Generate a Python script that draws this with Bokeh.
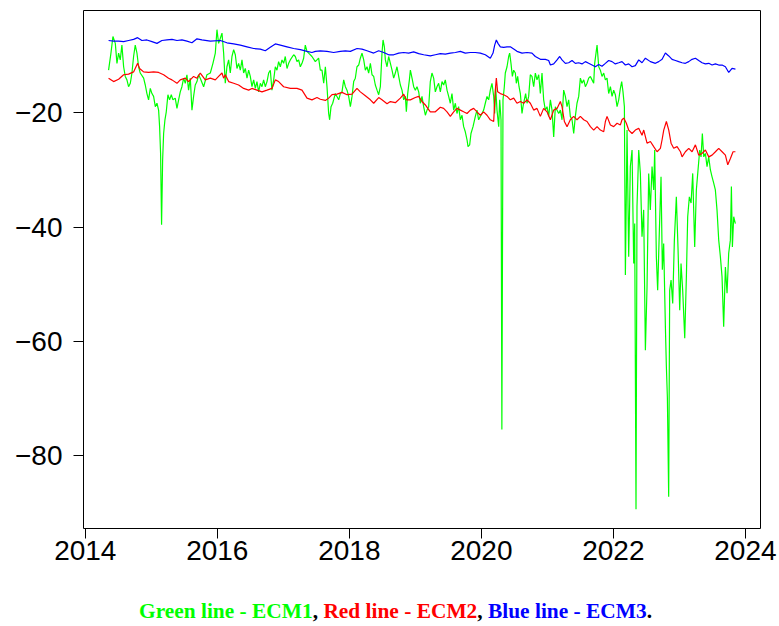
from bokeh.plotting import figure
from bokeh.models import Range1d, FixedTicker, Div
from bokeh.layouts import column
from bokeh.embed import file_html
from bokeh.resources import INLINE

# (decimal year, value) observations for each error-correction measure
ecm1_points = [
    (2014.353, -12.5), (2014.389, -9.5), (2014.419, -6.6), (2014.455, -7.8), (2014.480, -11.3),
    (2014.505, -9.5), (2014.530, -10.7), (2014.555, -8.1), (2014.581, -11.9), (2014.606, -13.6),
    (2014.631, -14.2), (2014.656, -15.4), (2014.682, -14.8), (2014.707, -13.0), (2014.732, -10.1),
    (2014.757, -8.1), (2014.783, -9.5), (2014.808, -11.9), (2014.833, -13.0), (2014.884, -13.9),
    (2014.909, -15.1), (2014.934, -16.6), (2014.959, -17.7), (2014.985, -15.7), (2015.010, -16.6),
    (2015.035, -17.1), (2015.061, -18.9), (2015.086, -18.3), (2015.111, -19.5), (2015.126, -22.4),
    (2015.141, -27.1), (2015.156, -39.6), (2015.172, -28.2), (2015.187, -23.6), (2015.207, -21.2),
    (2015.227, -19.8), (2015.252, -16.8), (2015.277, -17.7), (2015.303, -16.8), (2015.328, -17.7),
    (2015.363, -17.4), (2015.389, -19.2), (2015.414, -17.7), (2015.439, -16.3), (2015.464, -15.4),
    (2015.490, -13.9), (2015.515, -14.8), (2015.540, -13.3), (2015.565, -16.0), (2015.591, -13.9),
    (2015.616, -19.5), (2015.641, -17.1), (2015.666, -15.1), (2015.692, -14.5), (2015.717, -13.3),
    (2015.742, -13.9), (2015.793, -15.4), (2015.843, -13.3), (2015.894, -13.0),
    (2015.934, -11.3), (2015.970, -9.5), (2015.995, -5.4), (2016.020, -7.8), (2016.046, -6.9),
    (2016.071, -6.0), (2016.096, -9.5), (2016.121, -14.8), (2016.146, -11.9), (2016.172, -10.7),
    (2016.197, -13.0), (2016.222, -10.1), (2016.248, -8.9), (2016.273, -9.8), (2016.298, -12.2),
    (2016.323, -11.3), (2016.349, -12.5), (2016.374, -10.7), (2016.399, -13.0), (2016.424, -12.2),
    (2016.450, -13.9), (2016.475, -12.5), (2016.500, -13.6), (2016.525, -15.4), (2016.551, -14.2),
    (2016.576, -15.7), (2016.601, -14.5), (2016.626, -16.3), (2016.652, -14.8), (2016.677, -15.4),
    (2016.702, -14.2), (2016.727, -15.4), (2016.753, -14.5), (2016.778, -13.0), (2016.803, -12.5),
    (2016.828, -16.0), (2016.854, -14.2), (2016.879, -11.9), (2016.904, -12.5), (2016.929, -11.0),
    (2016.955, -11.9), (2016.980, -10.7), (2017.005, -11.3), (2017.030, -10.1), (2017.056, -12.2),
    (2017.081, -11.3), (2017.106, -10.7), (2017.157, -9.8), (2017.182, -10.1), (2017.207, -11.0),
    (2017.232, -10.7), (2017.258, -11.9), (2017.283, -11.3), (2017.308, -10.4), (2017.333, -8.1),
    (2017.359, -9.2), (2017.384, -9.5), (2017.434, -10.1), (2017.485, -11.0), (2017.535, -10.4),
    (2017.561, -12.5),
    (2017.586, -12.5), (2017.612, -14.8), (2017.637, -11.9), (2017.662, -15.4), (2017.687, -20.1),
    (2017.702, -21.2), (2017.723, -18.9), (2017.748, -18.3), (2017.788, -16.6), (2017.839, -17.7),
    (2017.864, -16.6), (2017.889, -16.3), (2017.915, -14.2), (2017.940, -15.4), (2017.965, -16.0),
    (2017.990, -17.1), (2018.016, -18.9), (2018.041, -17.1), (2018.066, -14.5), (2018.091, -13.9),
    (2018.116, -11.9), (2018.142, -11.6), (2018.167, -10.4), (2018.192, -9.5), (2018.218, -10.7),
    (2018.243, -12.5), (2018.268, -11.9), (2018.293, -13.0), (2018.319, -11.3), (2018.344, -13.3),
    (2018.369, -13.6), (2018.394, -15.1), (2018.420, -16.0), (2018.445, -16.8), (2018.470, -15.4),
    (2018.495, -9.5), (2018.511, -7.2), (2018.531, -8.4), (2018.546, -10.7), (2018.571, -11.9),
    (2018.596, -10.1), (2018.622, -11.3), (2018.647, -12.5), (2018.672, -13.9), (2018.697, -13.0),
    (2018.722, -11.9), (2018.748, -13.6), (2018.773, -15.1), (2018.798, -16.0), (2018.824, -17.7),
    (2018.849, -17.1), (2018.864, -19.8), (2018.884, -16.6), (2018.910, -14.2), (2018.925, -12.5),
    (2018.950, -13.9), (2018.975, -15.4), (2019.000, -16.0), (2019.025, -15.4), (2019.051, -16.3),
    (2019.076, -18.3), (2019.101, -17.1), (2019.126, -18.9), (2019.152, -20.4), (2019.177, -19.5),
    (2019.202, -18.9), (2019.227, -14.5),
    (2019.252, -13.0), (2019.278, -13.9), (2019.303, -16.3), (2019.328, -15.4), (2019.353, -14.8),
    (2019.379, -16.3), (2019.404, -14.5), (2019.429, -15.1), (2019.454, -14.2), (2019.480, -16.0),
    (2019.505, -17.1), (2019.530, -18.3), (2019.555, -16.6), (2019.581, -19.5), (2019.606, -18.3),
    (2019.631, -20.1), (2019.656, -18.9), (2019.682, -21.2), (2019.707, -20.4), (2019.732, -22.4),
    (2019.757, -23.3), (2019.783, -24.7), (2019.798, -25.9), (2019.823, -25.6), (2019.843, -23.6),
    (2019.874, -22.4), (2019.909, -20.6), (2019.934, -19.5), (2019.959, -21.2), (2019.985, -20.6),
    (2020.010, -20.1), (2020.035, -19.5), (2020.060, -18.3), (2020.086, -17.1), (2020.111, -17.7),
    (2020.136, -16.0), (2020.161, -14.8), (2020.187, -17.1), (2020.202, -20.1), (2020.217, -15.4),
    (2020.237, -19.5), (2020.263, -22.4), (2020.278, -17.7), (2020.298, -21.2), (2020.311, -75.5),
    (2020.328, -17.7), (2020.348, -15.4), (2020.363, -13.0), (2020.389, -11.9), (2020.414, -10.1),
    (2020.429, -9.5), (2020.449, -11.3), (2020.470, -13.6), (2020.490, -12.5), (2020.515, -13.0),
    (2020.530, -14.8), (2020.550, -13.6), (2020.571, -15.4), (2020.591, -16.6), (2020.616, -20.1),
    (2020.631, -18.9), (2020.651, -17.7), (2020.671, -16.6), (2020.692, -18.3), (2020.717, -17.1),
    (2020.742, -13.3), (2020.767, -13.6), (2020.793, -15.4), (2020.818, -13.0), (2020.843, -14.2),
    (2020.869, -13.3), (2020.894, -16.6),
    (2020.919, -13.0), (2020.944, -17.7), (2020.970, -19.5), (2020.995, -18.9), (2021.020, -20.6),
    (2021.046, -17.7), (2021.071, -19.5), (2021.096, -24.2), (2021.121, -18.9), (2021.172, -20.1),
    (2021.197, -19.5), (2021.222, -21.2), (2021.247, -16.0), (2021.273, -17.1), (2021.298, -18.9),
    (2021.323, -17.7), (2021.348, -20.6), (2021.374, -21.2), (2021.399, -23.6), (2021.424, -20.6),
    (2021.449, -18.3), (2021.475, -17.1), (2021.500, -13.9), (2021.525, -14.8), (2021.551, -14.2),
    (2021.576, -15.4), (2021.601, -14.8), (2021.626, -13.9), (2021.652, -13.6), (2021.677, -14.2),
    (2021.702, -14.8), (2021.717, -11.3), (2021.737, -9.5), (2021.753, -8.1), (2021.778, -11.9),
    (2021.803, -12.5), (2021.828, -13.6), (2021.854, -13.0), (2021.879, -14.2), (2021.904, -13.9),
    (2021.929, -16.6), (2021.955, -15.4), (2021.980, -17.1), (2022.005, -16.0), (2022.030, -16.8),
    (2022.056, -18.9), (2022.081, -17.7), (2022.106, -15.7), (2022.126, -14.5), (2022.146, -16.3),
    (2022.167, -18.9),
    (2022.182, -48.4), (2022.207, -23.0), (2022.232, -45.2), (2022.257, -29.4), (2022.283, -26.5),
    (2022.308, -46.4), (2022.323, -39.4), (2022.343, -89.5), (2022.358, -36.4), (2022.384, -26.5),
    (2022.409, -30.6), (2022.434, -41.7), (2022.459, -37.0), (2022.485, -61.6), (2022.510, -50.5),
    (2022.535, -30.6), (2022.560, -37.0), (2022.586, -29.4), (2022.611, -33.5), (2022.626, -26.5),
    (2022.651, -45.2), (2022.671, -51.1), (2022.697, -40.5), (2022.722, -31.2), (2022.742, -47.5),
    (2022.762, -42.9), (2022.788, -57.5), (2022.803, -64.5), (2022.818, -69.8), (2022.838, -87.3),
    (2022.853, -51.1), (2022.874, -49.3), (2022.899, -53.4), (2022.924, -42.3), (2022.954, -34.7),
    (2022.980, -44.0), (2023.005, -54.6), (2023.025, -46.4), (2023.050, -51.1), (2023.081, -59.5),
    (2023.106, -48.7), (2023.126, -38.2), (2023.151, -34.7), (2023.177, -35.8), (2023.202, -30.6),
    (2023.232, -43.5), (2023.257, -33.5), (2023.278, -30.6), (2023.308, -26.5), (2023.328, -27.7),
    (2023.348, -23.6), (2023.369, -27.7), (2023.394, -27.1), (2023.419, -29.4), (2023.444, -27.7),
    (2023.470, -30.0), (2023.495, -31.2), (2023.520, -32.3), (2023.545, -33.5), (2023.570, -37.0),
    (2023.596, -42.3), (2023.621, -45.2), (2023.646, -48.7), (2023.671, -57.5), (2023.697, -47.0),
    (2023.722, -51.6), (2023.747, -44.6), (2023.772, -42.3), (2023.788, -32.9), (2023.803, -43.5),
    (2023.823, -38.2), (2023.848, -39.4),
]

ecm2_points = [
    (2014.353, -13.9), (2014.429, -14.5), (2014.505, -14.1), (2014.581, -13.3), (2014.656, -13.2),
    (2014.732, -12.8), (2014.793, -11.3), (2014.823, -12.2), (2014.884, -12.8), (2014.959, -12.9),
    (2015.035, -12.8), (2015.111, -12.9), (2015.187, -13.3), (2015.262, -13.9), (2015.313, -14.2),
    (2015.389, -14.8), (2015.439, -14.2), (2015.515, -13.9), (2015.565, -14.5), (2015.641, -13.6),
    (2015.692, -13.9), (2015.742, -13.0), (2015.818, -14.2), (2015.894, -13.9),
    (2015.970, -14.2), (2016.020, -13.6), (2016.071, -13.0), (2016.096, -13.9), (2016.121, -13.3),
    (2016.172, -14.5), (2016.248, -14.8), (2016.323, -15.1), (2016.399, -15.7), (2016.475, -16.0),
    (2016.525, -15.7), (2016.601, -16.0), (2016.677, -16.3), (2016.753, -16.0), (2016.828, -15.7),
    (2016.879, -14.2), (2016.929, -14.5), (2017.005, -15.4), (2017.106, -15.7), (2017.207, -15.7),
    (2017.283, -16.0), (2017.359, -17.4), (2017.434, -17.7), (2017.510, -17.3), (2017.561, -17.6),
    (2017.637, -17.8), (2017.687, -17.4), (2017.738, -16.8), (2017.814, -16.7), (2017.889, -16.4),
    (2017.965, -16.8), (2018.041, -16.7), (2018.116, -15.7), (2018.167, -16.3), (2018.243, -17.0),
    (2018.319, -17.7), (2018.369, -18.3), (2018.445, -17.3), (2018.495, -17.7), (2018.571, -18.4),
    (2018.622, -18.0), (2018.697, -18.2), (2018.773, -17.4), (2018.824, -16.7), (2018.864, -17.7),
    (2018.925, -17.7), (2019.000, -17.3), (2019.051, -17.1), (2019.101, -18.0), (2019.152, -18.6),
    (2019.202, -19.4), (2019.227, -19.8),
    (2019.303, -19.8), (2019.379, -19.0), (2019.429, -19.2), (2019.480, -19.8), (2019.530, -20.6),
    (2019.581, -19.8), (2019.631, -19.2), (2019.682, -19.5), (2019.732, -19.8), (2019.783, -20.1),
    (2019.833, -19.5), (2019.884, -19.2), (2019.934, -19.8), (2019.985, -20.4), (2020.035, -19.8),
    (2020.086, -20.4), (2020.136, -21.2), (2020.187, -21.5), (2020.212, -16.0), (2020.227, -13.9),
    (2020.247, -16.3), (2020.288, -16.6), (2020.338, -16.8), (2020.389, -17.1), (2020.439, -17.7),
    (2020.490, -17.4), (2020.540, -18.3), (2020.591, -18.0), (2020.641, -18.3), (2020.692, -17.7),
    (2020.742, -18.3), (2020.793, -19.5), (2020.843, -19.2), (2020.894, -20.6),
    (2020.944, -19.2), (2020.995, -19.8), (2021.046, -21.2), (2021.096, -19.5), (2021.147, -19.2),
    (2021.172, -18.6), (2021.197, -18.0), (2021.222, -18.9), (2021.258, -21.5), (2021.298, -22.4),
    (2021.348, -21.2), (2021.399, -20.6), (2021.449, -21.2), (2021.500, -20.6), (2021.551, -21.2),
    (2021.601, -21.5), (2021.652, -22.4), (2021.702, -23.0), (2021.753, -22.4), (2021.803, -23.0),
    (2021.854, -23.3), (2021.879, -21.5), (2021.904, -20.6), (2021.955, -22.1), (2022.005, -22.4),
    (2022.056, -21.8), (2022.106, -22.1), (2022.131, -21.2), (2022.157, -20.9), (2022.197, -21.8),
    (2022.232, -23.0), (2022.283, -23.6), (2022.333, -23.0), (2022.384, -22.7), (2022.434, -23.9),
    (2022.460, -23.0), (2022.510, -25.3), (2022.561, -25.0),
    (2022.611, -25.9), (2022.662, -26.8), (2022.712, -26.2), (2022.738, -24.7), (2022.763, -23.0),
    (2022.803, -21.5), (2022.839, -23.0), (2022.874, -25.3), (2022.914, -26.2), (2022.965, -25.9),
    (2023.016, -26.8), (2023.041, -27.7), (2023.091, -26.8), (2023.142, -26.2), (2023.192, -26.8),
    (2023.243, -25.6), (2023.293, -27.4), (2023.344, -27.1), (2023.394, -26.5), (2023.445, -27.7),
    (2023.495, -27.4), (2023.546, -26.8), (2023.596, -26.2), (2023.647, -26.8), (2023.697, -27.4),
    (2023.733, -29.1), (2023.773, -28.0), (2023.813, -26.8), (2023.849, -26.8),
]

ecm3_points = [
    (2014.353, -7.3), (2014.429, -7.4), (2014.505, -7.4), (2014.581, -7.5), (2014.656, -7.3),
    (2014.732, -7.1), (2014.793, -6.8), (2014.858, -7.3), (2014.934, -7.2), (2015.010, -7.5),
    (2015.086, -7.8), (2015.161, -7.3), (2015.237, -7.2), (2015.313, -7.1), (2015.389, -7.3),
    (2015.464, -7.2), (2015.540, -7.4), (2015.616, -7.7), (2015.692, -7.0), (2015.767, -7.2),
    (2015.894, -7.4), (2016.046, -7.3), (2016.146, -7.7), (2016.248, -7.9), (2016.349, -8.1),
    (2016.450, -8.4), (2016.551, -8.7), (2016.652, -8.8), (2016.727, -9.1), (2016.803, -8.5),
    (2016.879, -7.9), (2016.955, -8.1), (2017.056, -8.4), (2017.157, -8.7), (2017.258, -8.9),
    (2017.359, -9.2), (2017.434, -9.4), (2017.485, -9.2), (2017.561, -9.1), (2017.662, -9.2),
    (2017.763, -9.4), (2017.864, -9.2), (2017.940, -9.1), (2018.016, -9.2), (2018.117, -8.7),
    (2018.192, -8.8), (2018.268, -9.1), (2018.369, -9.5), (2018.445, -9.1), (2018.521, -9.4),
    (2018.596, -9.8), (2018.672, -9.8), (2018.748, -9.5), (2018.824, -9.4), (2018.899, -9.5),
    (2018.975, -9.3), (2019.051, -9.6), (2019.127, -9.8), (2019.227, -10.0), (2019.303, -9.8),
    (2019.379, -9.6), (2019.454, -9.7), (2019.530, -9.5), (2019.606, -9.4), (2019.682, -9.2),
    (2019.757, -9.5), (2019.833, -9.4), (2019.909, -9.4), (2019.985, -9.5), (2020.060, -9.8),
    (2020.136, -10.4), (2020.177, -9.5), (2020.202, -8.1), (2020.227, -7.2), (2020.252, -7.8),
    (2020.288, -8.4), (2020.338, -8.5), (2020.389, -8.4), (2020.439, -8.4), (2020.490, -8.8),
    (2020.540, -9.2), (2020.616, -9.5), (2020.692, -9.4), (2020.767, -9.5), (2020.818, -10.1),
    (2020.894, -10.6), (2020.970, -10.6), (2021.020, -10.8), (2021.046, -11.6), (2021.096, -11.4),
    (2021.147, -10.7), (2021.187, -10.1), (2021.222, -10.7), (2021.273, -11.3), (2021.323, -11.2),
    (2021.374, -10.8), (2021.424, -11.3), (2021.475, -11.2), (2021.525, -11.4), (2021.576, -11.0),
    (2021.626, -11.3), (2021.677, -11.6), (2021.727, -11.9), (2021.778, -11.5), (2021.828, -11.8),
    (2021.879, -11.3), (2021.929, -10.8), (2021.980, -11.0), (2022.030, -11.4), (2022.081, -11.2),
    (2022.131, -11.0), (2022.182, -11.6), (2022.232, -11.4), (2022.283, -11.9), (2022.333, -11.7),
    (2022.384, -10.7), (2022.434, -11.2), (2022.485, -10.4), (2022.561, -11.0), (2022.637, -11.3),
    (2022.687, -11.0), (2022.738, -10.6), (2022.788, -9.5), (2022.839, -10.0), (2022.889, -10.6),
    (2022.940, -10.8), (2022.990, -11.0), (2023.041, -11.2), (2023.091, -11.3), (2023.142, -11.0),
    (2023.192, -10.6), (2023.243, -10.4), (2023.293, -10.8), (2023.344, -11.2), (2023.394, -11.4),
    (2023.445, -11.3), (2023.495, -11.6), (2023.546, -11.4), (2023.596, -11.6), (2023.647, -11.6),
    (2023.697, -11.9), (2023.748, -12.9), (2023.798, -12.2), (2023.849, -12.3),
]

x_ticks = [2014, 2016, 2018, 2020, 2022, 2024]
y_ticks = [-80, -60, -40, -20]

series = [
    (ecm1_points, "#00FF00"),
    (ecm2_points, "#FF0000"),
    (ecm3_points, "#0000FF"),
]

# axis limits padded by 4% of the data span on each side
all_t = [t for pts, _ in series for t, _v in pts]
all_v = [v for pts, _ in series for _t, v in pts]
pad_t = 0.04 * (max(all_t) - min(all_t))
pad_v = 0.04 * (max(all_v) - min(all_v))

p = figure(
    width=779, height=580,
    x_range=Range1d(min(all_t) - pad_t, max(all_t) + pad_t),
    y_range=Range1d(min(all_v) - pad_v, max(all_v) + pad_v),
    output_backend="svg", toolbar_location=None,
    min_border_left=83, min_border_right=19, min_border_top=10, min_border_bottom=52,
    background_fill_color="white", border_fill_color="white",
)
p.grid.visible = False
p.outline_line_color = "black"
p.outline_line_width = 1

for pts, color in series:
    ts = [t for t, _v in pts]
    vs = [v for _t, v in pts]
    p.line(ts, vs, line_color=color, line_width=1.2)

p.xaxis.ticker = FixedTicker(ticks=x_ticks)
p.yaxis.ticker = FixedTicker(ticks=y_ticks)
p.xaxis.major_label_overrides = {t: str(t) for t in x_ticks}
p.yaxis.major_label_overrides = {t: "\u2212" + str(abs(t)) for t in y_ticks}

for ax in (p.xaxis, p.yaxis):
    ax.axis_line_color = None
    ax.major_tick_line_color = "black"
    ax.major_tick_line_width = 1
    ax.major_tick_out = 10
    ax.major_tick_in = 0
    ax.minor_tick_line_color = None
    ax.major_label_text_font = "Liberation Sans"
    ax.major_label_text_font_size = "28px"
    ax.major_label_text_color = "black"

p.xaxis.major_label_standoff = 2
p.yaxis.major_label_standoff = 11

caption = Div(
    text=(
        '<div style="box-sizing:border-box;width:779px;padding-left:12px;text-align:center;'
        'font-family:\'Liberation Serif\',serif;'
        'font-weight:bold;font-size:21.4px;line-height:21px;padding-top:21px;">'
        '<span style="color:#00FF00">Green line - ECM1</span>, '
        '<span style="color:#FF0000">Red line - ECM2</span>, '
        '<span style="color:#0000FF">Blue line - ECM3</span>.'
        '</div>'
    ),
    width=779, height=46, margin=(0, 0, 0, 0),
)

layout = column(p, caption, spacing=0)

open("out.html", "w").write(file_html(layout, INLINE))
